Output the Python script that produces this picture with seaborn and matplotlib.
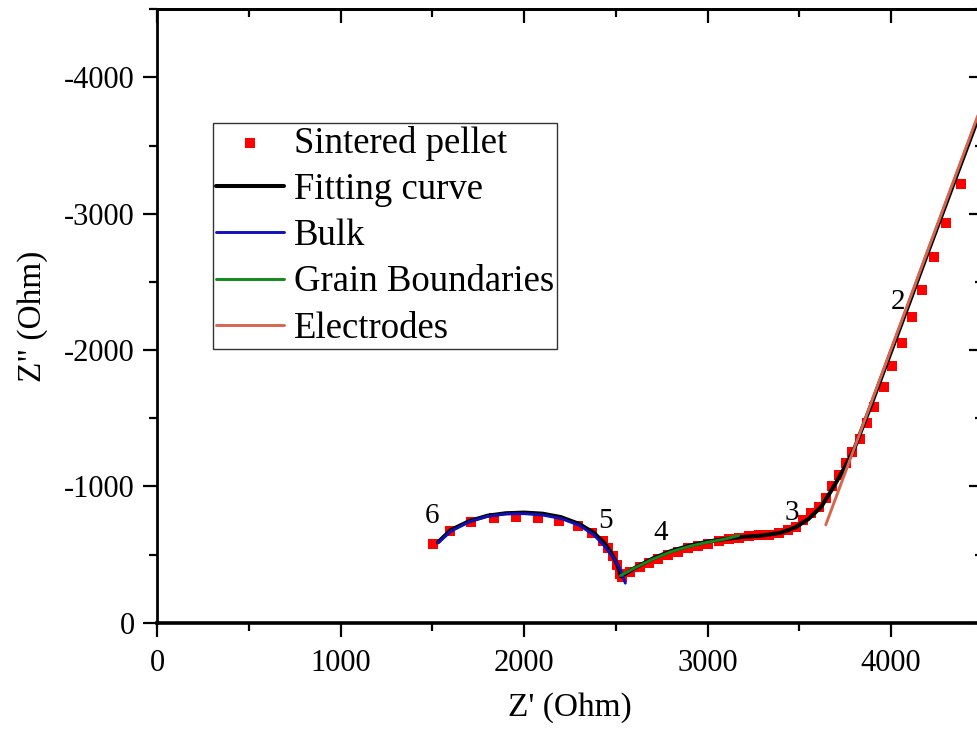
import numpy as np
import pandas as pd
import seaborn as sns
import matplotlib.pyplot as plt
from matplotlib.ticker import MultipleLocator

# Impedance data (Ohm), Z'' plotted as negative values
pellet_x = [1505, 1594, 1708, 1835, 1956, 2076, 2188, 2293, 2368, 2428, 2459, 2486,
            2504, 2522, 2535, 2580, 2630, 2680, 2730, 2785, 2840, 2895, 2950, 3005,
            3060, 3115, 3170, 3225, 3280, 3335, 3390, 3440, 3485, 3518, 3563, 3608,
            3645, 3681, 3717, 3753, 3789, 3831, 3867, 3907, 3961, 4007, 4061, 4115,
            4169, 4236, 4301, 4381]
pellet_y = [-578, -676, -742, -771, -774, -769, -747, -706, -657, -603, -547, -486,
            -425, -357, -335, -375, -410, -440, -468, -497, -522, -545, -563, -580,
            -598, -614, -625, -633, -640, -645, -660, -680, -705, -755, -804, -852,
            -913, -1004, -1084, -1170, -1255, -1346, -1463, -1585, -1731, -1883, -2049, -2244,
            -2444, -2684, -2933, -3216]

fit_x = [1530, 1600, 1700, 1800, 1900, 2000, 2100, 2200, 2300, 2380, 2440, 2480,
         2510, 2528, 2560, 2600, 2700, 2800, 2900, 3000, 3100, 3200, 3300, 3400,
         3480, 3550, 3620, 3680, 3740, 3800, 3900, 4000, 4100, 4200, 4300, 4400, 4500]
fit_y = [-590, -680, -745, -785, -803, -808, -800, -775, -725, -660, -580, -500,
         -420, -340, -365, -400, -470, -525, -565, -595, -615, -630, -640, -660,
         -700, -760, -850, -980, -1120, -1275, -1625, -1985, -2345, -2710, -3070, -3430, -3790]

bulk_x = [1530, 1600, 1700, 1800, 1900, 2000, 2100, 2200, 2300, 2380, 2440, 2490, 2525, 2552]
bulk_y = [-585, -670, -740, -780, -798, -800, -790, -765, -715, -645, -560, -470, -390, -290]

grain_x = [2525, 2600, 2700, 2800, 2900, 3000, 3100, 3170]
grain_y = [-345, -400, -465, -520, -560, -590, -615, -640]

electrode_x = [3645, 4520]
electrode_y = [-718, -3886]

point_labels = ['6', '5', '4', '3', '2']
point_label_x = [1498, 2446, 2746, 3460, 4041]
point_label_y = [-783, -746, -658, -805, -2354]

sns.set_style('ticks')
plt.rcParams['font.family'] = ['Liberation Serif', 'DejaVu Serif']
plt.rcParams['axes.unicode_minus'] = False
plt.rcParams.update({'text.color': 'black', 'axes.labelcolor': 'black',
                     'xtick.color': 'black', 'ytick.color': 'black',
                     'axes.edgecolor': 'black'})

fig = plt.figure(figsize=(9.77, 7.31), dpi=100)
ax = fig.add_axes([157.3 / 977, 108.3 / 731, 825.3 / 977, 613.4 / 731])

sns.scatterplot(x=pellet_x, y=pellet_y, marker='s', color='#ff0000', s=52,
                linewidth=0, label='Sintered pellet', ax=ax, zorder=2)
sns.lineplot(x=fit_x, y=fit_y, sort=False, estimator=None, color='black',
             linewidth=2.9, label='Fitting curve', ax=ax, zorder=3)
sns.lineplot(x=bulk_x, y=bulk_y, sort=False, estimator=None, color='#1010b8',
             linewidth=2.1, label='Bulk', ax=ax, zorder=4)
sns.lineplot(x=grain_x, y=grain_y, sort=False, estimator=None, color='#118a1c',
             linewidth=2.1, label='Grain Boundaries', ax=ax, zorder=4)
sns.lineplot(x=electrode_x, y=electrode_y, sort=False, estimator=None, color='#d8664f',
             linewidth=2.1, label='Electrodes', ax=ax, zorder=5)

for t, tx, ty in zip(point_labels, point_label_x, point_label_y):
    ax.text(tx, ty, t, fontsize=21, ha='center', va='center')

ax.set_xlim(0, 4500)
ax.set_ylim(0, -4500)

ax.xaxis.set_major_locator(MultipleLocator(1000))
ax.xaxis.set_minor_locator(MultipleLocator(500))
ax.yaxis.set_major_locator(MultipleLocator(1000))
ax.yaxis.set_minor_locator(MultipleLocator(500))
ax.tick_params(which='major', direction='out', length=10, width=1.6, labelsize=22)
ax.tick_params(axis='x', which='major', pad=9)
ax.tick_params(axis='y', which='major', pad=6)
ax.tick_params(which='minor', direction='out', length=5.5, width=1.6)

for side in ['left', 'top', 'right']:
    ax.spines[side].set_linewidth(2.0)
ax.spines['bottom'].set_linewidth(2.6)

# mirrored ticks on top and right point inwards
top = ax.secondary_xaxis('top')
top.xaxis.set_major_locator(MultipleLocator(1000))
top.xaxis.set_minor_locator(MultipleLocator(500))
top.tick_params(which='major', direction='in', length=10, width=1.6, labeltop=False)
top.tick_params(which='minor', direction='in', length=5.5, width=1.6)
top.spines['top'].set_linewidth(2.0)
right = ax.secondary_yaxis('right')
right.yaxis.set_major_locator(MultipleLocator(1000))
right.yaxis.set_minor_locator(MultipleLocator(500))
right.tick_params(which='major', direction='in', length=10, width=1.6, labelright=False)
right.tick_params(which='minor', direction='in', length=5.5, width=1.6)

ax.set_xlabel("Z' (Ohm)", fontsize=24, labelpad=10)
ax.set_ylabel('Z" (Ohm)', fontsize=24, labelpad=12)

leg = ax.legend(loc='upper left', bbox_to_anchor=(0.0671, 0.8151), borderaxespad=0,
                fontsize=26.5, frameon=True, fancybox=False, framealpha=1,
                edgecolor='#333333', labelspacing=0.32, handlelength=1.85,
                handletextpad=0.28, borderpad=0.08, scatterpoints=1, markerscale=1.0)
leg.get_frame().set_linewidth(1.0)

plt.savefig('out.png', dpi=100)
